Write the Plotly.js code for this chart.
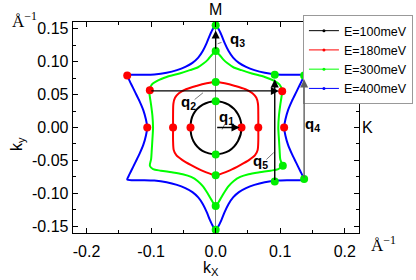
<!DOCTYPE html>
<html>
<head>
<meta charset="utf-8">
<script src="https://cdn.plot.ly/plotly-3.0.1.min.js"></script>
<style>html,body{margin:0;padding:0;background:#fff;}#chart{width:416px;height:280px;}</style>
</head>
<body>
<div id="chart"></div>
<script>
// ---- data ----
const seriesNames = ['E=100meV', 'E=180meV', 'E=300meV', 'E=400meV'];

const x100 = [0.040, 0.0346, 0.020, 0, -0.020, -0.0346, -0.039, -0.0346, -0.0205, 0, 0.0205, 0.0346, 0.040];
const y100 = [0, 0.020, 0.0346, 0.040, 0.0346, 0.020, 0, -0.0205, -0.0355, -0.041, -0.0355, -0.0205, 0];

const x180 = [0.066, 0.066, 0.0655, 0.063, 0.057, 0.046, 0.030, 0.014, 0, -0.014, -0.030, -0.046, -0.057, -0.063, -0.0655, -0.066, -0.066,
              -0.066, -0.065, -0.061, -0.052, -0.038, -0.022, -0.009, 0, 0.009, 0.022, 0.038, 0.052, 0.061, 0.065, 0.066, 0.066];
const y180 = [0, 0.020, 0.036, 0.045, 0.052, 0.058, 0.063, 0.067, 0.069, 0.067, 0.063, 0.058, 0.052, 0.045, 0.036, 0.020, 0,
              -0.020, -0.034, -0.042, -0.049, -0.057, -0.065, -0.070, -0.0725, -0.070, -0.065, -0.057, -0.049, -0.042, -0.034, -0.020, 0];

const x300 = [0.097, 0.098, 0.100, 0.102, 0.103, 0.099, 0.090, 0.076, 0.056, 0.040, 0.028, 0.019, 0.012, 0.006, 0,
              -0.006, -0.012, -0.019, -0.028, -0.040, -0.056, -0.076, -0.090, -0.099, -0.103,
              -0.102, -0.100, -0.098, -0.097, -0.098, -0.099, -0.100, -0.102,
              -0.097, -0.085, -0.068, -0.051, -0.038, -0.028, -0.020, -0.013, -0.007, 0,
              0.007, 0.013, 0.020, 0.028, 0.038, 0.051, 0.068, 0.085, 0.097, 0.103,
              0.100, 0.099, 0.098, 0.097];
const y300 = [0, 0.018, 0.034, 0.047, 0.056, 0.065, 0.071, 0.0765, 0.082, 0.087, 0.091, 0.097, 0.103, 0.110, 0.116,
              0.110, 0.103, 0.097, 0.091, 0.087, 0.082, 0.0765, 0.071, 0.065, 0.056,
              0.047, 0.034, 0.018, 0, -0.018, -0.034, -0.048, -0.058,
              -0.063, -0.0655, -0.068, -0.071, -0.075, -0.081, -0.089, -0.099, -0.109, -0.119,
              -0.109, -0.099, -0.089, -0.081, -0.075, -0.071, -0.068, -0.0655, -0.063, -0.058,
              -0.048, -0.034, -0.018, 0];

const x400 = [0.106, 0.108, 0.112, 0.118, 0.125, 0.131, 0.135, 0.137,
              0.128, 0.112, 0.095, 0.076, 0.060, 0.047, 0.036, 0.027, 0.020, 0.014, 0.009, 0.004, 0,
              -0.004, -0.009, -0.014, -0.020, -0.027, -0.036, -0.047, -0.060, -0.076, -0.095, -0.112, -0.128, -0.137,
              -0.135, -0.131, -0.125, -0.118, -0.112, -0.108, -0.106, -0.108, -0.112, -0.118, -0.125, -0.131, -0.135, -0.137,
              -0.128, -0.112, -0.095, -0.076, -0.060, -0.047, -0.036, -0.027, -0.020, -0.014, -0.009, -0.004, 0,
              0.004, 0.009, 0.014, 0.020, 0.027, 0.036, 0.047, 0.060, 0.076, 0.095, 0.112, 0.128, 0.137,
              0.135, 0.131, 0.125, 0.118, 0.112, 0.108, 0.106];
const y400 = [0, 0.012, 0.026, 0.040, 0.054, 0.066, 0.074, 0.079,
              0.080, 0.080, 0.0805, 0.083, 0.087, 0.092, 0.098, 0.106, 0.116, 0.128, 0.140, 0.150, 0.155,
              0.150, 0.140, 0.128, 0.116, 0.106, 0.098, 0.092, 0.087, 0.083, 0.0805, 0.080, 0.080, 0.079,
              0.074, 0.066, 0.054, 0.040, 0.026, 0.012, 0, -0.012, -0.026, -0.040, -0.054, -0.066, -0.074, -0.079,
              -0.080, -0.080, -0.0805, -0.083, -0.087, -0.092, -0.098, -0.106, -0.116, -0.128, -0.140, -0.150, -0.155,
              -0.150, -0.140, -0.128, -0.116, -0.106, -0.098, -0.092, -0.087, -0.083, -0.0805, -0.080, -0.080, -0.079,
              -0.074, -0.066, -0.054, -0.040, -0.026, -0.012, 0];

// highlighted points
const redDotX = [-0.039, 0.040, -0.066, 0.066, -0.106, 0.106, -0.102, 0.103, -0.137];
const redDotY = [0, 0, 0, 0, 0, 0, 0.0565, 0.055, 0.079];
const greenDotX = [0, 0, 0, 0, 0, 0, 0, 0, 0.0915, 0.0915, 0.137, 0.137, 0.104];
const greenDotY = [0.040, -0.041, 0.069, -0.0725, 0.116, -0.119, 0.155, -0.155, 0.080, -0.082, 0.079, -0.078, -0.058];

// scattering vectors: tail -> head
const qNames = ['q1', 'q2', 'q3', 'q4', 'q5'];
const qTailX = [0, -0.102, 0, 0.137, 0.0915];
const qTailY = [0, 0.0555, 0.117, -0.078, -0.082];
const qHeadX = [0.037, 0.098, 0, 0.137, 0.0915];
const qHeadY = [0, 0.0555, 0.147, 0.073, 0.073];
const qLabelX = [0.0165, -0.042, 0.034, 0.150, 0.070];
const qLabelY = [0.015, 0.038, 0.133, 0.005, -0.052];

const xTickVals = [-0.2, -0.1, 0, 0.1, 0.2];
const xTickText = ['-0.2', '-0.1', '0.0', '0.1', '0.2'];
const yTickVals = [-0.15, -0.10, -0.05, 0, 0.05, 0.10, 0.15];
const yTickText = ['-0.15', '-0.10', '-0.05', '0.00', '0.05', '0.10', '0.15'];

// ---- drawing ----
const colors = ['#000000', '#ff0000', '#00ff00', '#0000ff'];
const curvesX = [x100, x180, x300, x400];
const curvesY = [y100, y180, y300, y400];

const traces = [];
for (let i = 0; i < 4; i++) {
  traces.push({
    x: curvesX[i], y: curvesY[i], type: 'scatter', mode: 'lines',
    line: {color: colors[i], width: 2, shape: 'spline', smoothing: 0.8},
    showlegend: false, hoverinfo: 'skip'
  });
}
traces.push({x: redDotX, y: redDotY, type: 'scatter', mode: 'markers',
  marker: {color: '#ff0000', size: 8}, showlegend: false, hoverinfo: 'skip'});
traces.push({x: greenDotX, y: greenDotY, type: 'scatter', mode: 'markers',
  marker: {color: '#00ee00', size: 8}, showlegend: false, hoverinfo: 'skip'});
for (let i = 0; i < 4; i++) {
  traces.push({x: [null], y: [null], type: 'scatter', mode: 'lines+markers', name: seriesNames[i],
    line: {color: colors[i], width: 1}, marker: {color: colors[i], size: 3}});
}

const qColors = ['#000', '#000', '#000', '#606060', '#000'];
const annotations = [];
for (let i = 0; i < qNames.length; i++) {
  annotations.push({x: qHeadX[i], y: qHeadY[i], ax: qTailX[i], ay: qTailY[i], xref: 'x', yref: 'y', axref: 'x', ayref: 'y',
    text: '', showarrow: true, arrowhead: 2, arrowsize: 1.15, arrowwidth: 1.4, arrowcolor: qColors[i], standoff: 0});
  annotations.push({x: qLabelX[i], y: qLabelY[i], xref: 'x', yref: 'y', showarrow: false, xanchor: 'center', yanchor: 'middle',
    text: '<b>q<sub>' + qNames[i].slice(1) + '</sub></b>', font: {family: 'Liberation Sans, Arial', size: 15, color: '#000'}});
}
const txtFont = {family: 'Liberation Sans, Arial', size: 16, color: '#000'};
const ctr = {showarrow: false, xanchor: 'center', yanchor: 'middle'};
annotations.push(Object.assign({x: 0, xref: 'x', y: 1.058, yref: 'paper', text: 'M', font: txtFont}, ctr));
annotations.push(Object.assign({x: 1.031, xref: 'paper', y: 0, yref: 'y', text: 'K', font: txtFont}, ctr));
annotations.push(Object.assign({x: -0.194, xref: 'paper', y: 0.42, yref: 'paper', text: 'k<sub>y</sub>', textangle: -90, font: txtFont}, ctr));
annotations.push(Object.assign({x: 0.482, xref: 'paper', y: -0.168, yref: 'paper', text: 'k<sub>X</sub>', font: txtFont}, ctr));
const serif = {family: 'Liberation Serif, Times New Roman, serif', size: 17, color: '#000'};
annotations.push(Object.assign({x: -0.169, xref: 'paper', y: 1.01, yref: 'paper', text: 'Å<sup>−1</sup>', font: serif}, ctr));
annotations.push(Object.assign({x: 1.084, xref: 'paper', y: -0.05, yref: 'paper', text: 'Å<sup>−1</sup>', font: serif}, ctr));

const leaders = [
  [0.010, -0.003, 0.014, 0.005],
  [-0.0326, 0.0424, -0.0197, 0.0526],
  [0.003, 0.127, 0.009, 0.129],
  [0.0786, -0.0485, 0.090, -0.038]
];
const shapes = leaders.map(l => ({type: 'line', xref: 'x', yref: 'y', x0: l[0], y0: l[1], x1: l[2], y1: l[3],
  line: {color: '#555', width: 0.8}}));

const axisCommon = {
  showgrid: false, showline: true, linecolor: '#000', linewidth: 1.3, mirror: 'ticks',
  ticks: 'inside', ticklen: 5, tickwidth: 1.1, tickcolor: '#000', tickmode: 'array',
  tickfont: {family: 'Liberation Sans, Arial', size: 16, color: '#000'}
};

const layout = {
  width: 416, height: 280,
  margin: {l: 73, r: 57, t: 22, b: 47, autoexpand: false},
  paper_bgcolor: '#fff', plot_bgcolor: '#fff',
  xaxis: Object.assign({}, axisCommon, {range: [-0.221, 0.222], tickvals: xTickVals, ticktext: xTickText,
    zeroline: true, zerolinecolor: '#808080', zerolinewidth: 1.5, ticklabelstandoff: 3,
    minor: {dtick: 0.05, tick0: 0, ticks: 'inside', ticklen: 3, tickcolor: '#000', tickwidth: 1}}),
  yaxis: Object.assign({}, axisCommon, {range: [-0.16, 0.16], tickvals: yTickVals, ticktext: yTickText,
    zeroline: false,
    minor: {dtick: 0.025, tick0: 0, ticks: 'inside', ticklen: 3, tickcolor: '#000', tickwidth: 1}}),
  legend: {x: 0.804, xanchor: 'left', y: 1.033, yanchor: 'top', bgcolor: '#fff', bordercolor: '#999', borderwidth: 1,
    font: {family: 'Liberation Sans, Arial', size: 12.5, color: '#000'}, tracegroupgap: 0},
  annotations: annotations,
  shapes: shapes
};

Plotly.newPlot('chart', traces, layout, {staticPlot: true});
</script>
</body>
</html>
